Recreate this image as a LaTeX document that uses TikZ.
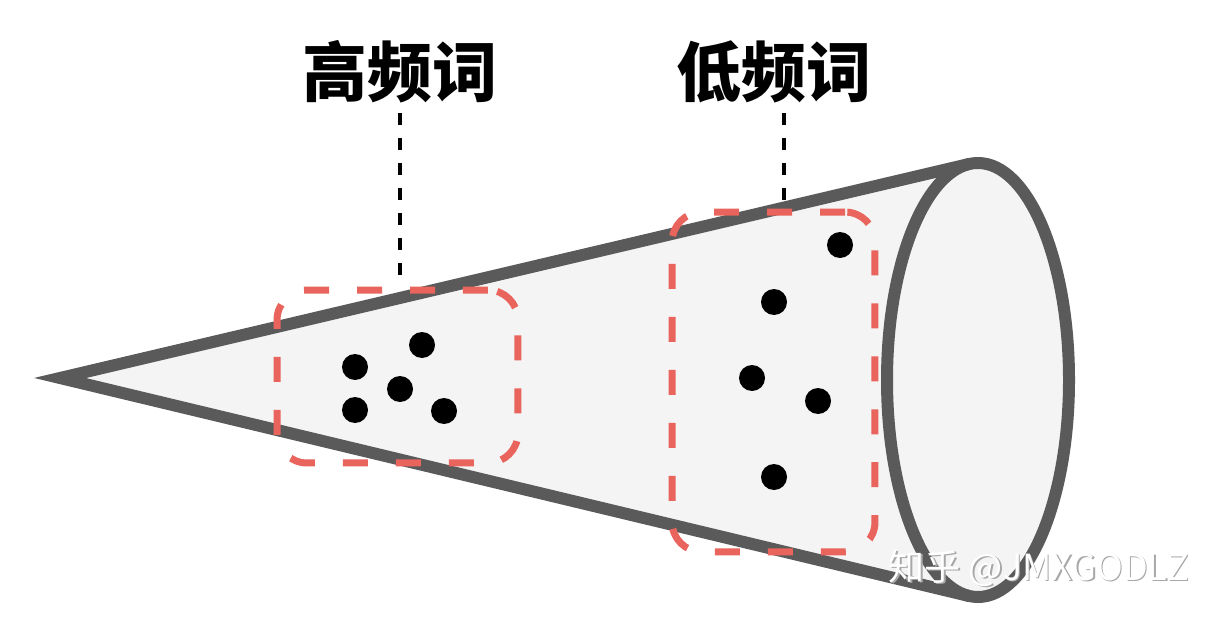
\documentclass[tikz,border=0pt]{standalone}
\usepackage{fontspec}
\newfontfamily\cjk{Noto Sans CJK SC}
\usetikzlibrary{calc}
\definecolor{conegray}{HTML}{5A5A5A}
\definecolor{conefill}{HTML}{F4F4F4}
\definecolor{boxred}{HTML}{E8645C}
\definecolor{wmgray}{HTML}{A8A8A8}
\begin{document}
\begin{tikzpicture}[x=0.02cm,y=-0.02cm,
  coneline/.style={draw=conegray,line width=0.24cm},
  dot/.style={circle,fill=black,inner sep=0pt,minimum size=0.52cm},
  redbox/.style={draw=boxred,line width=0.14cm,rounded corners=0.6cm,dash pattern=on 0.5cm off 0.56cm,inner sep=0pt},
  lead/.style={draw=black,line width=0.08cm,dash pattern=on 0.24cm off 0.26cm},
  lbl/.style={font=\cjk\bfseries\fontsize{37}{40}\selectfont,inner sep=0pt},
  wm/.style={font=\cjk\fontsize{20.5}{24}\selectfont,inner sep=0pt}]
\useasboundingbox (0,0) rectangle (1222,618);
\fill[white] (0,0) rectangle (1222,618);
% cone
\coordinate (tip) at (60,378);
\coordinate (tu) at (969,164);
\coordinate (tl) at (969,596);
\coordinate (ec) at (978,380);
\fill[conefill] (tip)--(tu)--(tl)--cycle;
\fill[conefill] (ec) ellipse [x radius=91,y radius=217];
\draw[coneline,line join=miter] (tu)--(tip)--(tl);
\draw[coneline] (ec) ellipse [x radius=91,y radius=217];
% dots, high frequency
\node[dot] (h1) at (355,367) {};
\node[dot] (h2) at (422,345) {};
\node[dot] (h3) at (400,389) {};
\node[dot] (h4) at (355,410) {};
\node[dot] (h5) at (444,411) {};
% dots, low frequency
\node[dot] (d1) at (840,245) {};
\node[dot] (d2) at (774,302) {};
\node[dot] (d3) at (752,378) {};
\node[dot] (d4) at (818,401) {};
\node[dot] (d5) at (774,477) {};
% boxes
\node[redbox,minimum width=4.82cm,minimum height=3.46cm] (b1) at (397.5,376.5) {};
\node[redbox,minimum width=4.06cm,minimum height=6.8cm] (b2) at (773.5,382) {};
% labels
\node[lbl] (l1) at (400,72) {高频词};
\node[lbl] (l2) at (774,72) {低频词};
\coordinate (c1) at (400,113);
\coordinate (c2) at (784,113);
\draw[lead] (c1) -- (c1 |- b1.north);
\draw[lead] (c2) -- (c2 |- b2.north);
% watermark
\node[wm,text=wmgray] (wms) at (1040.5,569.5) {知乎 @JMXGODLZ};
\node[wm,text=white] (wmt) at (1039,568) {知乎 @JMXGODLZ};
\end{tikzpicture}
\end{document}
